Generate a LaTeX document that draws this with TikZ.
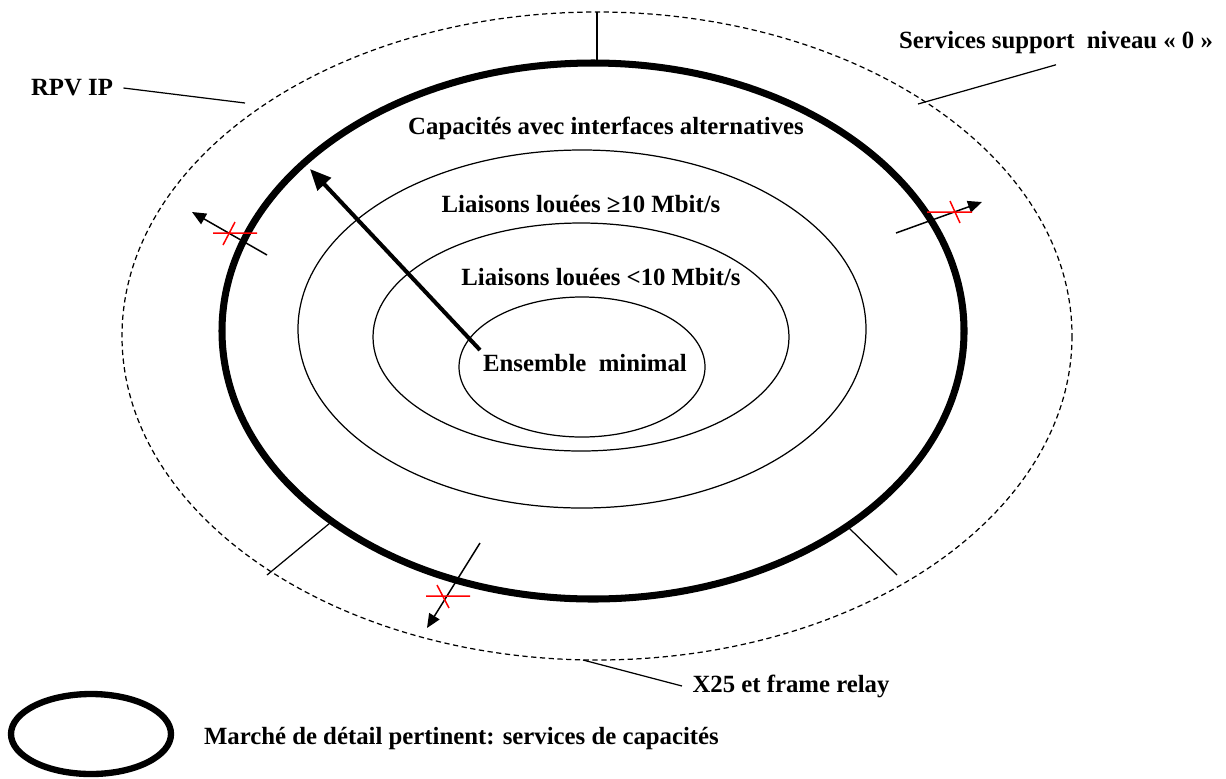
\documentclass[tikz,border=0pt]{standalone}
\usepackage{fontspec}
\setmainfont{Liberation Serif}
\usetikzlibrary{arrows.meta}
\begin{document}
\begin{tikzpicture}[x=0.02cm,y=-0.02cm,
    lbl/.style={font=\bfseries\fontsize{14.1}{17}\selectfont,inner sep=0pt,outer sep=6pt},
    thin line/.style={line width=0.7pt},
    blocked/.style={line width=0.85pt,-{Triangle[length=0.28cm,width=0.24cm]}},
    cross/.style={red,line width=0.85pt}]
  \useasboundingbox (0,0) rectangle (1226,778);

  % rings
  \draw[thin line,dash pattern=on 3pt off 2pt] (597,336) ellipse [x radius=475,y radius=324];
  \draw[line width=4pt] (593,331) ellipse [x radius=371,y radius=268];
  \draw[thin line] (582,329) ellipse [x radius=284,y radius=179];
  \draw[thin line] (581,337) ellipse [x radius=208,y radius=114];
  \draw[thin line] (582,367) ellipse [x radius=123,y radius=70];

  % separations in the outer ring
  \draw[thin line] (597,12) -- (597,62);
  \draw[thin line] (267,575) -- (330,523);
  \draw[thin line] (848,527) -- (897,575);

  % texts
  \node[lbl] (rpv) at (72,88) {RPV IP};
  \node[lbl] (support) at (1056,43) {Services support\ \ niveau « 0 »};
  \node[lbl] (alt) at (606,128) {Capacités avec interfaces alternatives};
  \node[lbl] (high) at (581,204) {Liaisons louées ≥10 Mbit/s};
  \node[lbl] (low) at (601,277) {Liaisons louées <10 Mbit/s};
  \node[lbl] (min) at (585,363) {Ensemble\ \ minimal};
  \node[lbl] (x25) at (791,686) {X25 et frame relay};

  \coordinate (rpvend) at (245,103);
  \coordinate (supportend) at (918,104);
  \coordinate (x25end) at (583,660);
  \draw[thin line] (rpv.east) -- (rpvend);
  \draw[thin line] (support.south) -- (supportend);
  \draw[thin line] (x25.west) -- (x25end);

  % migration from the minimal set
  \coordinate (migrfrom) at (480,350);
  \coordinate (migrto) at (310,169);
  \draw[line width=2.3pt,-{Triangle[length=0.42cm,width=0.36cm]}] (migrfrom) -- (migrto);

  % blocked substitutions
  \draw[blocked] (267,255) -- (192,212);
  \draw[cross] (213,233) -- (257,233) (223,245) -- (235,222);
  \draw[blocked] (896,233) -- (982,202);
  \draw[cross] (927,212) -- (972,212) (950,201) -- (960,223);
  \draw[blocked] (480,543) -- (427,628);
  \draw[cross] (426,596) -- (470,596) (437,585) -- (449,608);

  % legend
  \draw[line width=3.6pt] (91,734) ellipse [x radius=80,y radius=40];
  \node[lbl,anchor=west,outer sep=0pt] (legend) at (204,739) {Marché de détail pertinent: services de capacités};
\end{tikzpicture}
\end{document}
